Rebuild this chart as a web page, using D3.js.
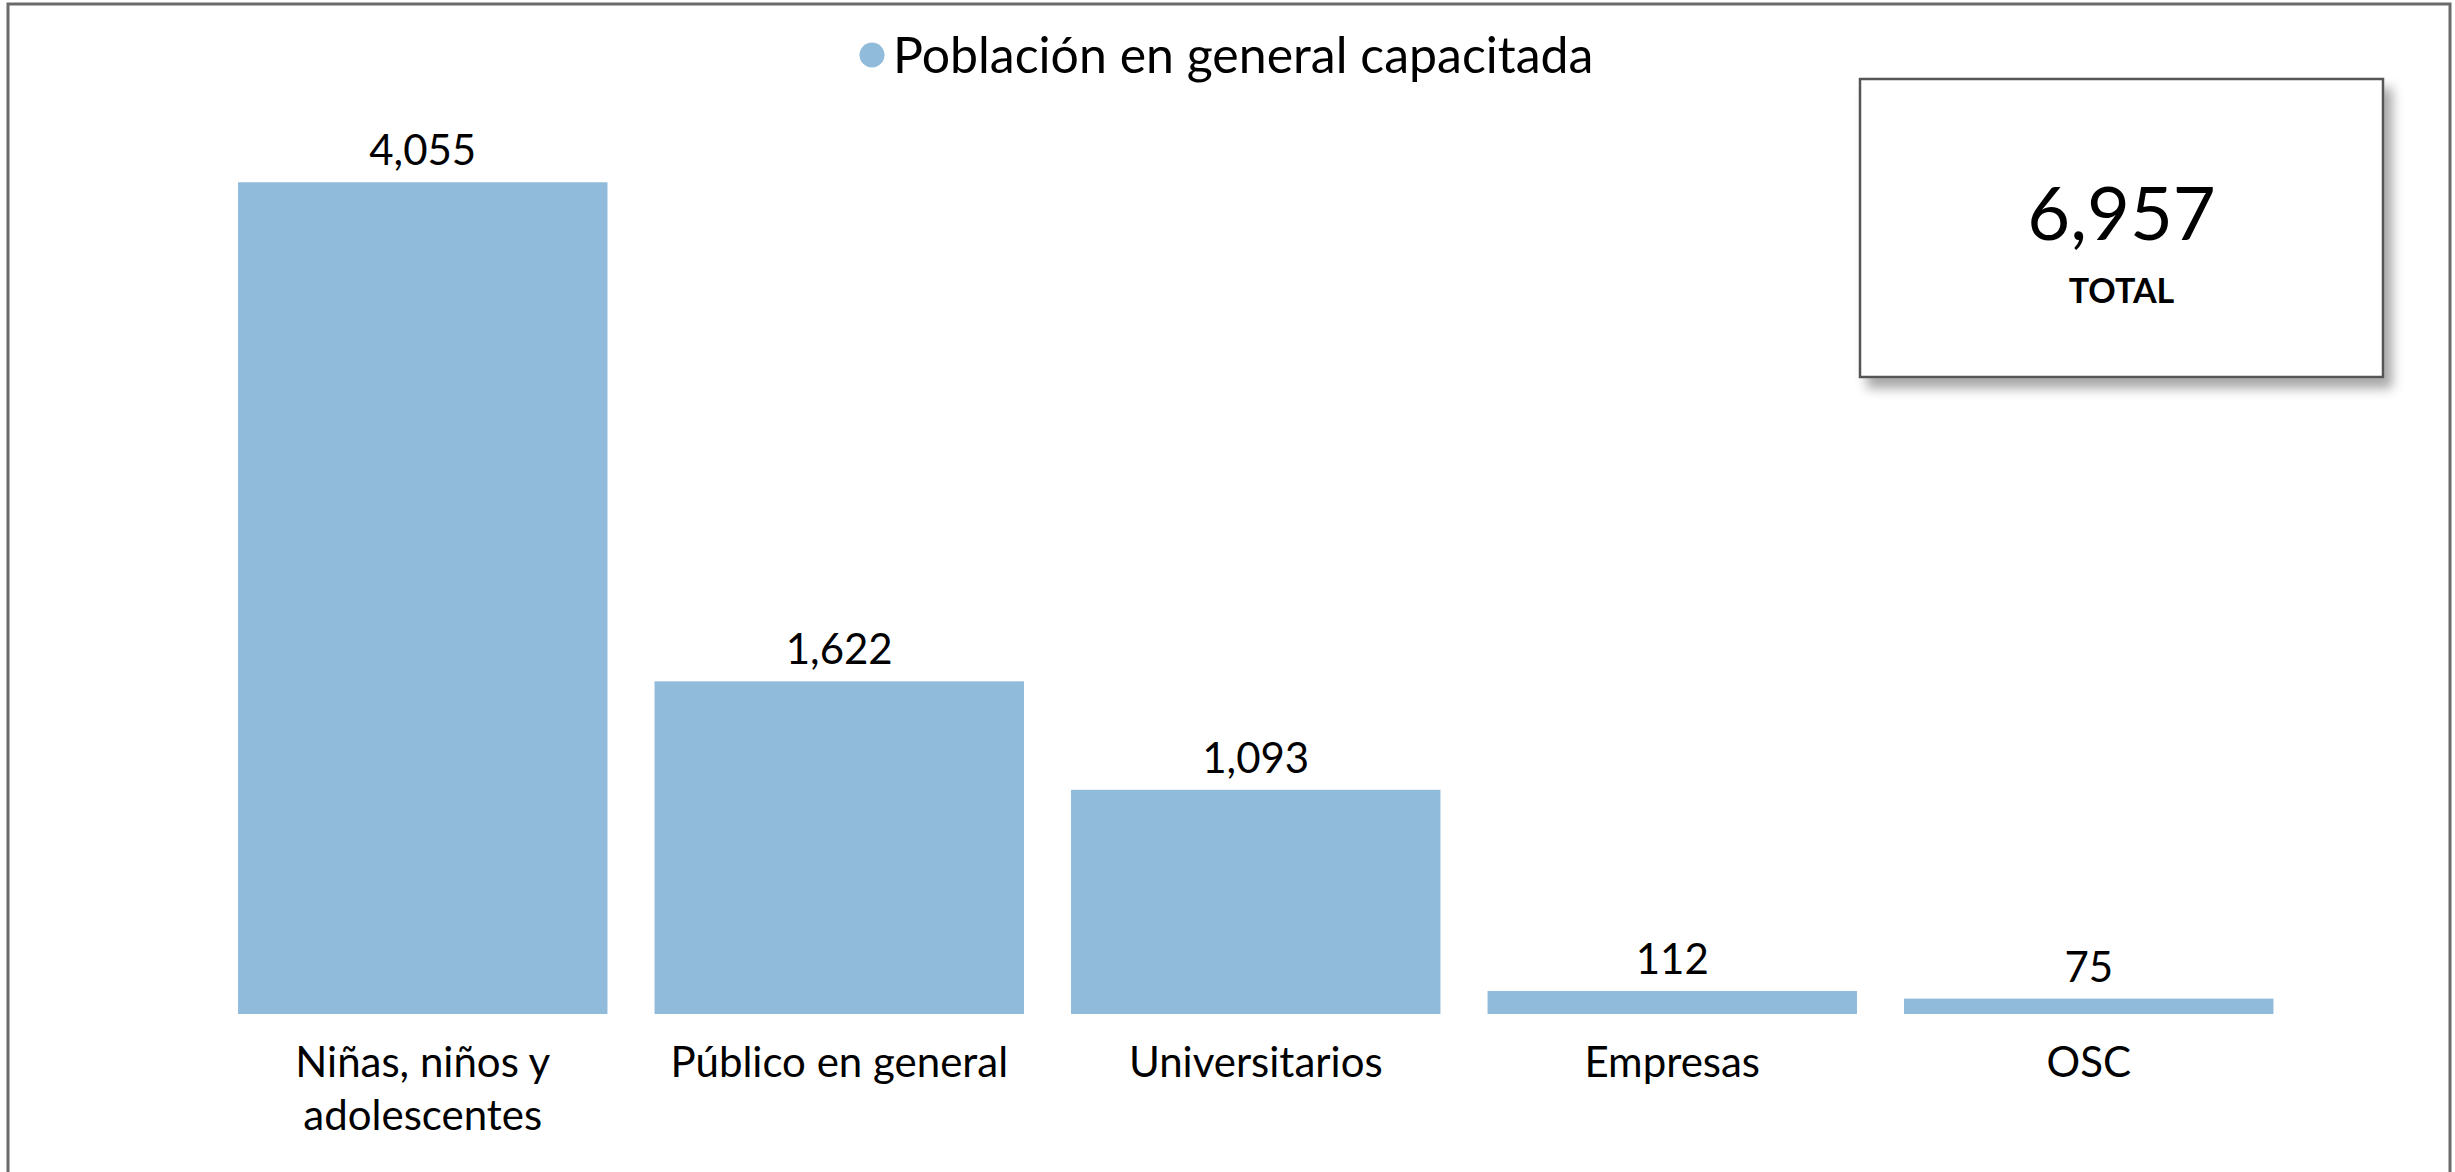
<!DOCTYPE html>
<html lang="es">
<head>
<meta charset="utf-8">
<title>Población en general capacitada</title>
<script src="https://cdn.jsdelivr.net/npm/d3@7"></script>
<style>
  html, body { margin: 0; padding: 0; background: #ffffff; }
  svg { display: block; font-family: Lato, "Open Sans", sans-serif; }
</style>
</head>
<body>
<svg id="chart" width="2455" height="1172"></svg>
<script>
// Categories and values
const categories = [
  ["Niñas, niños y", "adolescentes"],
  ["Público en general"],
  ["Universitarios"],
  ["Empresas"],
  ["OSC"]
];
const values = [4055, 1622, 1093, 112, 75];
const seriesName = "Población en general capacitada";
const totalLabel = "TOTAL";
const total = d3.sum(values);

const W = 2455, H = 1172;
const barColor = "#90bbdb";
const fontFamily = "Lato, 'Open Sans', sans-serif";
const svg = d3.select("#chart");

// Shadow for the total box
const defs = svg.append("defs");
const shadow = defs.append("filter").attr("id", "boxShadow")
  .attr("x", "-10%").attr("y", "-10%").attr("width", "130%").attr("height", "130%");
shadow.append("feDropShadow")
  .attr("dx", 8).attr("dy", 10).attr("stdDeviation", 6)
  .attr("flood-color", "#000").attr("flood-opacity", 0.35);

// Outer frame
svg.append("rect")
  .attr("x", 8).attr("y", 4)
  .attr("width", W - 8 - 5).attr("height", H + 20)
  .attr("fill", "#fff").attr("stroke", "#6b6b6b").attr("stroke-width", 3);

// Scales
const keys = categories.map((c, i) => "c" + i);
const x = d3.scaleBand()
  .domain(keys)
  .range([214.5, 2297])
  .paddingInner(0.113)
  .paddingOuter(0.0565);

const y = d3.scaleLinear()
  .domain([0, 4500])
  .range([1014, 91]);

// Bars
const g = svg.append("g");
g.selectAll("rect.bar")
  .data(values)
  .join("rect")
  .attr("class", "bar")
  .attr("x", (d, i) => x(keys[i]))
  .attr("y", d => y(d))
  .attr("width", x.bandwidth())
  .attr("height", d => y(0) - y(d))
  .attr("fill", barColor);

// Value labels
const fmt = d3.format(",");
g.selectAll("text.val")
  .data(values)
  .join("text")
  .attr("class", "val")
  .attr("x", (d, i) => x(keys[i]) + x.bandwidth() / 2)
  .attr("y", d => y(d) - 17)
  .attr("text-anchor", "middle")
  .attr("font-size", 42)
  .attr("fill", "#000")
  .text(d => fmt(d));

// Category axis labels
const xAxis = d3.axisBottom(x).tickSize(0).tickFormat("");
const axisG = svg.append("g")
  .attr("transform", `translate(0,${y(0)})`)
  .call(xAxis)
  .attr("font-family", fontFamily);
axisG.select(".domain").remove();

axisG.selectAll(".tick").each(function(k, i) {
  const t = d3.select(this).append("text")
    .attr("text-anchor", "middle")
    .attr("font-family", fontFamily)
    .attr("font-size", 42)
    .attr("fill", "#000");
  categories[i].forEach((line, j) => {
    t.append("tspan").attr("x", 0).attr("y", 63 + j * 53).text(line);
  });
});

// Legend
const legend = svg.append("g");
legend.append("circle")
  .attr("cx", 872).attr("cy", 55).attr("r", 12.5)
  .attr("fill", barColor);
legend.append("text")
  .attr("x", 893).attr("y", 73)
  .attr("font-size", 50)
  .attr("fill", "#000")
  .text(seriesName);

// Total box
const box = svg.append("g");
box.append("rect")
  .attr("x", 1860).attr("y", 79)
  .attr("width", 523).attr("height", 298)
  .attr("fill", "#fff")
  .attr("stroke", "#555").attr("stroke-width", 2.5)
  .attr("filter", "url(#boxShadow)");
box.append("text")
  .attr("x", 2121.5).attr("y", 240)
  .attr("text-anchor", "middle")
  .attr("font-size", 74)
  .attr("fill", "#000")
  .text(fmt(total));
box.append("text")
  .attr("x", 2121.5).attr("y", 303)
  .attr("text-anchor", "middle")
  .attr("font-size", 34)
  .attr("font-weight", "bold")
  .attr("fill", "#000")
  .text(totalLabel);
</script>
</body>
</html>
